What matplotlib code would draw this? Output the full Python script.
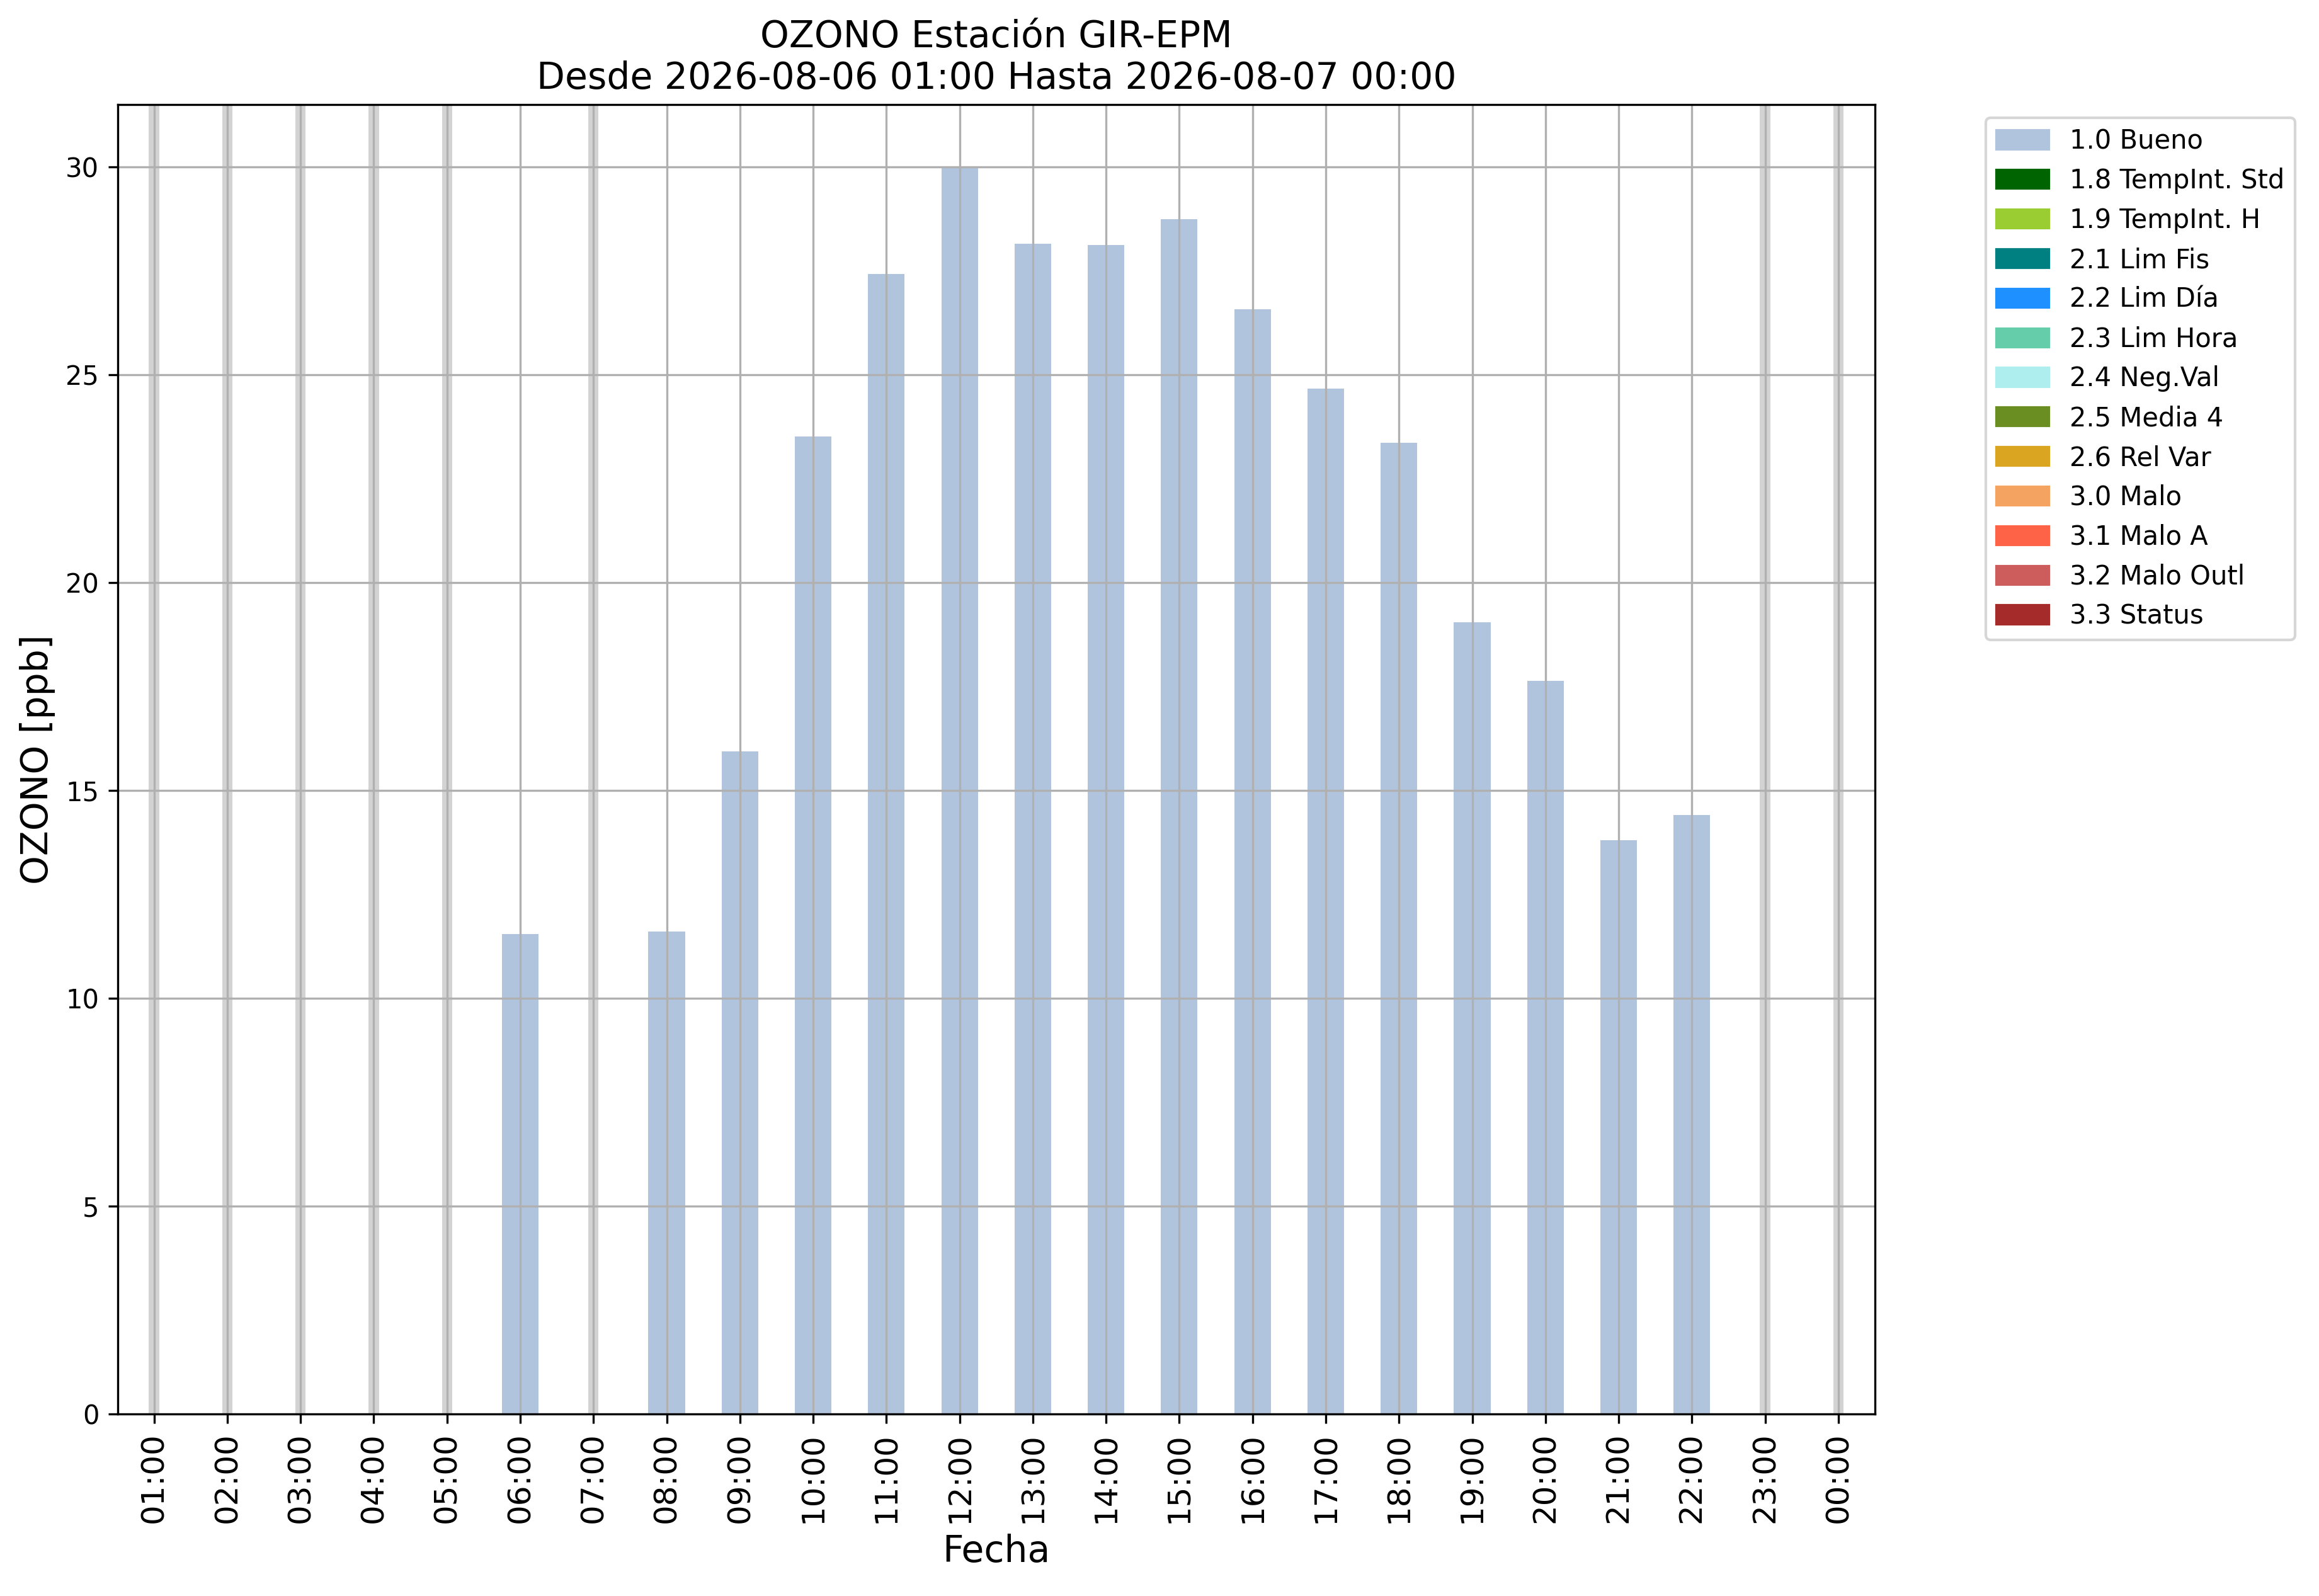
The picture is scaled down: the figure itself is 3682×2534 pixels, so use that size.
import numpy as np
import matplotlib
matplotlib.use("Agg")
from matplotlib import pyplot as plt
from matplotlib.patches import Patch

# hourly ozone values (NaN = no data)
horas = ['01:00', '02:00', '03:00', '04:00', '05:00', '06:00', '07:00', '08:00',
         '09:00', '10:00', '11:00', '12:00', '13:00', '14:00', '15:00', '16:00',
         '17:00', '18:00', '19:00', '20:00', '21:00', '22:00', '23:00', '00:00']
ozono = [np.nan, np.nan, np.nan, np.nan, np.nan, 11.55, np.nan, 11.6,
         15.94, 23.52, 27.42, 30.0, 28.15, 28.12, 28.75, 26.57,
         24.66, 23.36, 19.04, 17.64, 13.81, 14.41, np.nan, np.nan]

# quality flag legend
flag_labels = ['1.0 Bueno', '1.8 TempInt. Std', '1.9 TempInt. H', '2.1 Lim Fis',
               '2.2 Lim Día', '2.3 Lim Hora', '2.4 Neg.Val', '2.5 Media 4',
               '2.6 Rel Var', '3.0 Malo', '3.1 Malo A', '3.2 Malo Outl', '3.3 Status']
flag_colors = ['lightsteelblue', 'darkgreen', 'yellowgreen', 'teal',
               'dodgerblue', 'mediumaquamarine', 'paleturquoise', 'olivedrab',
               'goldenrod', 'sandybrown', 'tomato', 'indianred', 'brown']

titulo = 'OZONO Estación GIR-EPM\nDesde 2026-08-06 01:00 Hasta 2026-08-07 00:00'

W, H = 3682, 2534
fig = plt.figure(figsize=(W / 300, H / 300), dpi=300)
ax = fig.add_subplot(111)
fig.subplots_adjust(left=186.5 / W, right=2977 / W, top=1 - 166 / H, bottom=1 - 2245 / H)

x = np.arange(len(horas))
vals = np.array(ozono)

ax.bar(x, vals, width=0.5, color=flag_colors[0])

# grey band where there is no data
for xi in x[np.isnan(vals)]:
    ax.axvspan(xi - 0.07, xi + 0.07, color='lightgray', lw=0)

ax.set_xlim(-0.5, len(horas) - 0.5)
ax.set_ylim(0, np.nanmax(vals) * 1.05)
ax.set_xticks(x)
ax.set_xticklabels(horas, rotation=90, fontsize=12)
ax.tick_params(axis='y', labelsize=10)
ax.grid(True)

ax.set_title(titulo, fontsize=14)
ax.set_xlabel('Fecha', fontsize=14)
ax.set_ylabel('OZONO [ppb]', fontsize=14)

handles = [Patch(color=c, label=l) for c, l in zip(flag_colors, flag_labels)]
ax.legend(handles=handles, loc='upper left', bbox_to_anchor=(1.0556, 1), fontsize=10)

fig.savefig('out.png', dpi=300)
